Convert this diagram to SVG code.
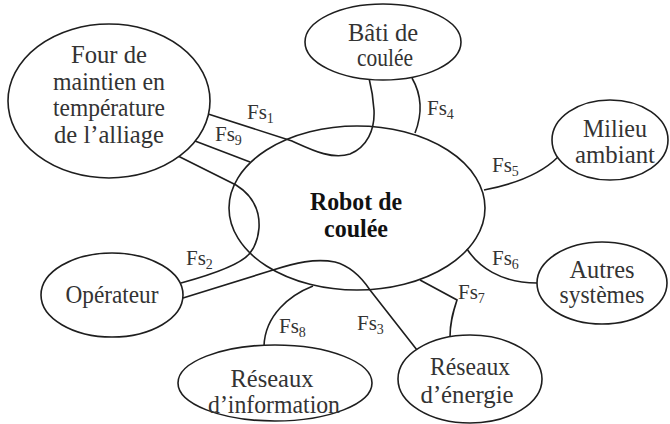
<svg xmlns="http://www.w3.org/2000/svg" width="670" height="424" viewBox="0 0 670 424">
<style>
.n{fill:#fff;stroke:#1e1e1e;stroke-width:1.6}
.c{fill:none;stroke:#1e1e1e;stroke-width:1.6}
.t{font-family:"Liberation Serif","Times New Roman",serif;font-size:25px;fill:#333;text-anchor:middle}
.b{font-family:"Liberation Serif","Times New Roman",serif;font-size:25px;font-weight:bold;fill:#111;text-anchor:middle}
.l{font-family:"Liberation Serif","Times New Roman",serif;font-size:21px;fill:#333}
.s{font-size:14px}
</style>
<rect width="670" height="424" fill="#fff"/>
<g id="robot"><ellipse class="n" cx="357" cy="208" rx="128" ry="82"/></g>
<g id="connectors">
<path class="c" d="M205,113 L292,141 C312,150 332,160 350,154 C367,147 375,130 374,110 C373,95 371,86 369,78"/>
<path class="c" d="M195,141 L250,162"/>
<path class="c" d="M178,156 L236,185 C252,195 260,210 259,228 C258,240 254,248 250,253 C244,261 225,271 181,283"/>
<path class="c" d="M183,298 L273,270 C295,263 315,258 335,262 C350,266 362,278 370,290 L417,350"/>
<path class="c" d="M313,286 C290,295 265,315 264,346"/>
<path class="c" d="M420,280 L457,300 C453,312 450,322 450,337"/>
<path class="c" d="M467,249 C478,266 500,283 537,283"/>
<path class="c" d="M484,190 C510,185 540,175 558,157"/>
<path class="c" d="M412,78 C420,92 424,110 415,133"/>
<text class="l" x="247" y="119">Fs<tspan class="s" dy="4">1</tspan></text>
<text class="l" x="215" y="141">Fs<tspan class="s" dy="4">9</tspan></text>
<text class="l" x="427" y="115">Fs<tspan class="s" dy="4">4</tspan></text>
<text class="l" x="492" y="172">Fs<tspan class="s" dy="4">5</tspan></text>
<text class="l" x="492" y="265">Fs<tspan class="s" dy="4">6</tspan></text>
<text class="l" x="458" y="299">Fs<tspan class="s" dy="4">7</tspan></text>
<text class="l" x="357" y="330">Fs<tspan class="s" dy="4">3</tspan></text>
<text class="l" x="279" y="333">Fs<tspan class="s" dy="4">8</tspan></text>
<text class="l" x="186" y="265">Fs<tspan class="s" dy="4">2</tspan></text>
</g>
<g id="robot-label"><text class="b" x="356" y="210" textLength="92" lengthAdjust="spacingAndGlyphs">Robot de</text><text class="b" x="356" y="237" textLength="64" lengthAdjust="spacingAndGlyphs">coulée</text></g>
<g id="four"><ellipse class="n" cx="109" cy="101" rx="101" ry="77"/>
<text class="t" x="109" y="63" textLength="76" lengthAdjust="spacingAndGlyphs">Four de</text><text class="t" x="109" y="90" textLength="112" lengthAdjust="spacingAndGlyphs">maintien en</text><text class="t" x="109" y="116" textLength="112" lengthAdjust="spacingAndGlyphs">température</text><text class="t" x="109" y="143" textLength="110" lengthAdjust="spacingAndGlyphs">de l’alliage</text></g>
<g id="bati"><ellipse class="n" cx="383" cy="42" rx="78" ry="38"/>
<text class="t" x="383" y="41" textLength="70" lengthAdjust="spacingAndGlyphs">Bâti de</text><text class="t" x="385" y="66" textLength="56" lengthAdjust="spacingAndGlyphs">coulée</text></g>
<g id="milieu"><ellipse class="n" cx="610" cy="140" rx="58" ry="40"/>
<text class="t" x="615" y="137" textLength="64" lengthAdjust="spacingAndGlyphs">Milieu</text><text class="t" x="615" y="163" textLength="80" lengthAdjust="spacingAndGlyphs">ambiant</text></g>
<g id="autres"><ellipse class="n" cx="602" cy="283" rx="65" ry="41"/>
<text class="t" x="602" y="278" textLength="65" lengthAdjust="spacingAndGlyphs">Autres</text><text class="t" x="602" y="303" textLength="85" lengthAdjust="spacingAndGlyphs">systèmes</text></g>
<g id="energie"><ellipse class="n" cx="470" cy="379" rx="72" ry="44"/>
<text class="t" x="470" y="375" textLength="80" lengthAdjust="spacingAndGlyphs">Réseaux</text><text class="t" x="467" y="403" textLength="93" lengthAdjust="spacingAndGlyphs">d’énergie</text></g>
<g id="information"><ellipse class="n" cx="275" cy="383" rx="97" ry="38"/>
<text class="t" x="272" y="387" textLength="83" lengthAdjust="spacingAndGlyphs">Réseaux</text><text class="t" x="274" y="413" textLength="132" lengthAdjust="spacingAndGlyphs">d’information</text></g>
<g id="operateur"><ellipse class="n" cx="112" cy="295" rx="71" ry="42"/>
<text class="t" x="112" y="303" textLength="93" lengthAdjust="spacingAndGlyphs">Opérateur</text></g>
</svg>
